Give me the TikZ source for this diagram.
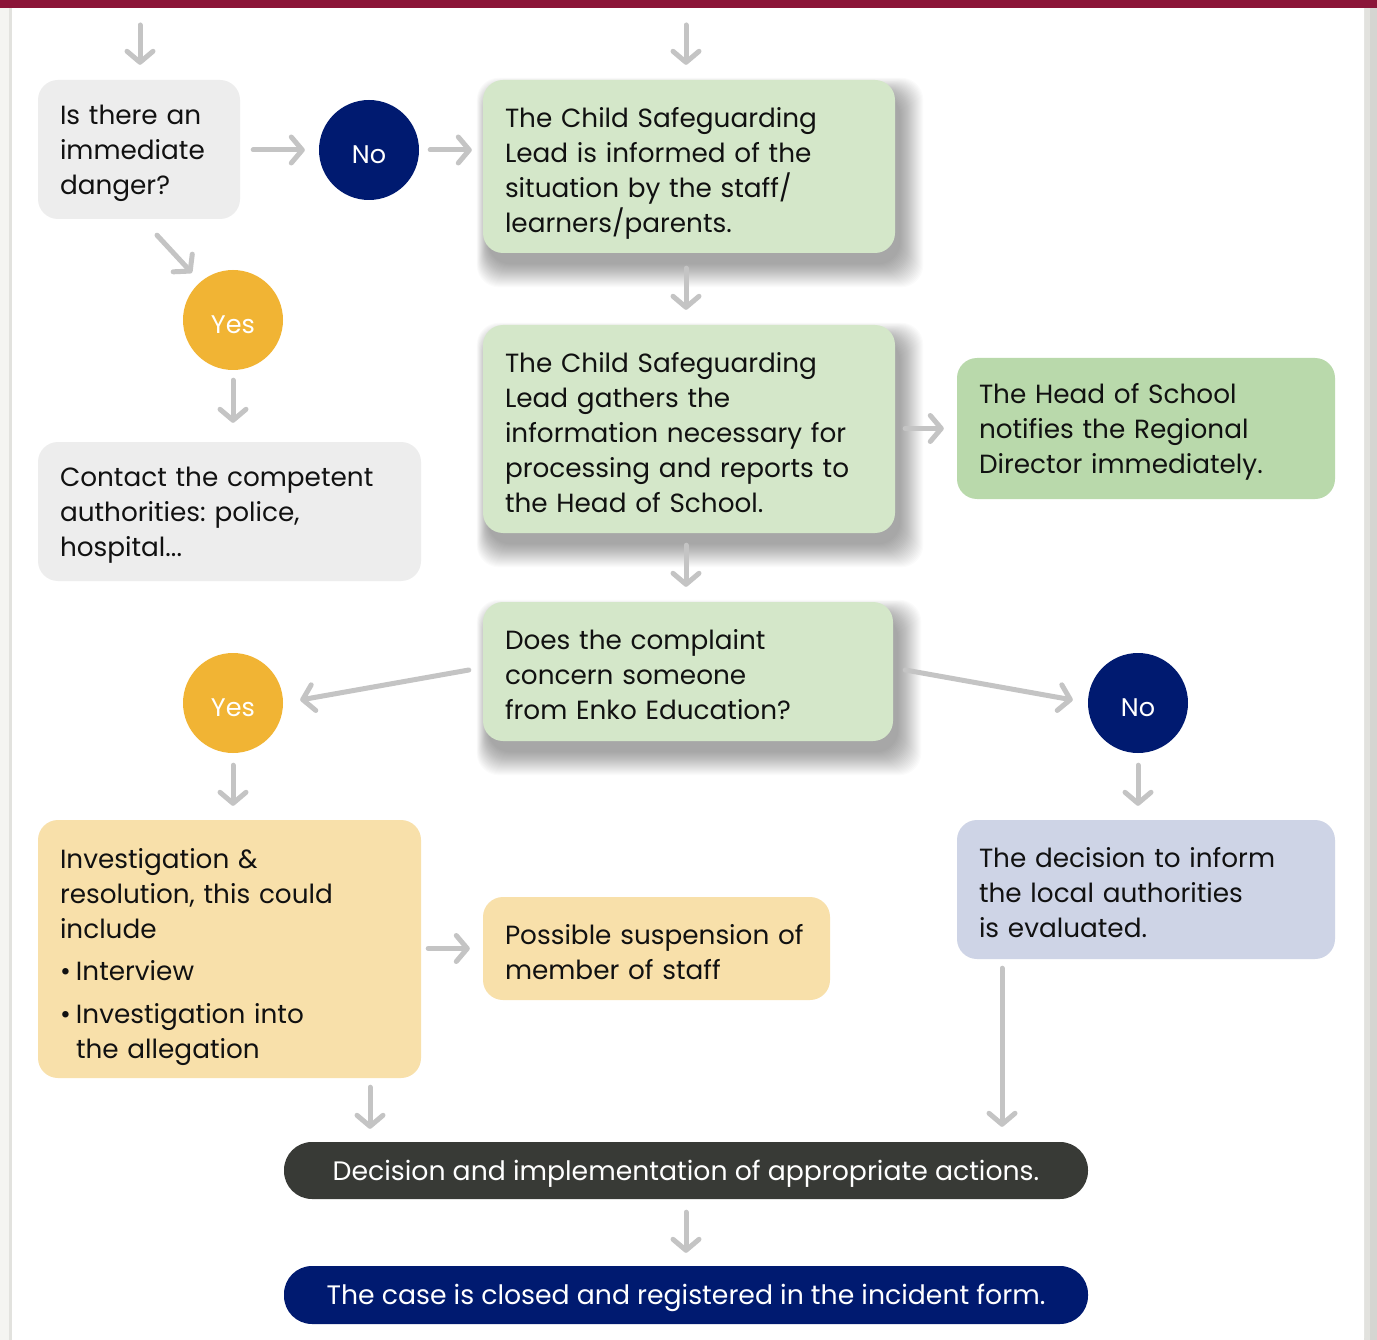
\documentclass[tikz,border=0pt]{standalone}
\usepackage{fontspec}
\setmainfont{Poppins}
\frenchspacing
\usetikzlibrary{arrows.meta,calc}
\pgfdeclarelayer{frame}
\pgfdeclarelayer{shadow}
\pgfsetlayers{frame,shadow,main}
\definecolor{navy}{HTML}{001A70}
\definecolor{sun}{HTML}{F1B434}
\definecolor{greyfill}{HTML}{EDEDED}
\definecolor{greenfill}{HTML}{D4E7C9}
\definecolor{greendark}{HTML}{B9D9AB}
\definecolor{yelfill}{HTML}{F8E0AA}
\definecolor{bluefill}{HTML}{CED4E6}
\definecolor{darkpill}{HTML}{383A36}
\definecolor{arrowgray}{HTML}{C4C4C4}
\definecolor{maroon}{HTML}{8B1538}
\definecolor{frameL}{HTML}{F4F4F1}
\definecolor{frameG}{HTML}{E2E2DE}
\definecolor{frameD}{HTML}{D5D5D1}
\definecolor{ink}{HTML}{111111}
\newcommand\softshadow[1]{%
  \begin{pgfonlayer}{shadow}
  \foreach \k in {0,...,23}{%
    \fill[black, opacity=0.016, rounded corners=22pt]
      ($(#1.north west)+(-6+0.5*\k,-2+0.7*\k)$) rectangle ($(#1.south east)+(28-\k,34-\k)$);}
  \end{pgfonlayer}}
\begin{document}
\begin{tikzpicture}[x=1pt,y=-1pt,
  lift/.style={execute at begin node={\rule{0pt}{27pt}}},
  txt/.style={font=\fontsize{26.3}{35}\selectfont, lift},
  box/.style={txt, rounded corners=20pt, align=left, inner xsep=22pt, inner ysep=0pt, text=ink},
  circ/.style={font=\fontsize{25.5}{30}\selectfont, lift, circle, minimum size=100pt, inner sep=0pt, text=white},
  pill/.style={font=\fontsize{26.7}{35}\selectfont, lift, rounded corners=28pt, minimum width=804pt, inner sep=0pt, text=white},
  arr/.style={draw=arrowgray, line width=5pt, line cap=round, -{Straight Barb[length=11pt,width=26pt,round]}}
]
\useasboundingbox (0,0) rectangle (1377,1340);
% page frame
\begin{pgfonlayer}{frame}
\fill[frameG] (0,0) rectangle (1377,1340);
\fill[frameL] (0,0) rectangle (9,1340);
\fill[frameD] (1370,0) rectangle (1377,1340);
\fill[white, rounded corners=14pt] (12,-30) rectangle (1364,1352);
\fill[maroon] (0,0) rectangle (1377,8);
\end{pgfonlayer}

% nodes
\node[box, fill=greyfill, text width=158pt, minimum height=139pt] (q) at (139,149.5)
  {Is there an\\immediate\\danger?};
\node[circ, fill=navy] (no1) at (369,150) {No};
\node[box, fill=greenfill, text width=368pt, minimum height=173pt] (b1) at (689,166.5)
  {\rule{0pt}{33pt}The Child Safeguarding\\Lead is informed of the\\situation by the staff/\\learners/parents.};
\node[circ, fill=sun] (yes1) at (233,320) {Yes};
\node[box, fill=greyfill, text width=339pt, minimum height=139pt] (contact) at (229.5,511.5)
  {Contact the competent\\authorities: police,\\hospital...};
\node[box, fill=greenfill, text width=368pt, minimum height=208pt] (b2) at (689,429)
  {The Child Safeguarding\\Lead gathers the\\information necessary for\\processing and reports to\\the Head of School.};
\node[box, fill=greendark, text width=334pt, minimum height=141pt] (hos) at (1146,428.5)
  {The Head of School\\notifies the Regional\\Director immediately.};
\node[box, fill=greenfill, text width=366pt, minimum height=139pt] (b3) at (688,671.5)
  {Does the complaint\\concern someone\\from Enko Education?};
\node[circ, fill=sun] (yes2) at (233,703) {Yes};
\node[circ, fill=navy] (no2) at (1138,703) {No};
\node[box, fill=yelfill, text width=339pt, minimum height=258pt] (inv) at (229.5,949)
  {\rule{0pt}{37pt}Investigation \&\\resolution, this could\\include\\[7pt]\makebox[16pt][l]{•}Interview\\[8pt]\makebox[16pt][l]{•}Investigation into\\\hspace*{16pt}the allegation};
\node[box, fill=yelfill, text width=303pt, minimum height=103pt] (susp) at (656.5,948.5)
  {Possible suspension of\\member of staff};
\node[box, fill=bluefill, text width=334pt, minimum height=139pt] (eval) at (1146,889.5)
  {The decision to inform\\the local authorities\\is evaluated.};
\node[pill, fill=darkpill, minimum height=57pt] (act) at (686,1170.5)
  {Decision and implementation of appropriate actions.};
\node[pill, fill=navy, minimum height=58pt] (close) at (686,1295)
  {The case is closed and registered in the incident form.};

\softshadow{b1}
\softshadow{b2}
\softshadow{b3}

% free ends
\coordinate (t1) at (140,25);
\coordinate (t2) at (686,25);

% connectors
\draw[arr, shorten >=15pt] (t1) -- (q.north -| t1);
\draw[arr, shorten >=15pt] (t2) -- (b1.north -| t2);
\draw[arr, shorten <=13pt, shorten >=14pt] (q.east |- no1) -- (no1.west);
\draw[arr, shorten <=11pt, shorten >=11pt] (no1.east) -- (no1.east -| b1.west);
\draw[arr] ($(q.south)+(18,16)$) -- ($(yes1.north west)+(-5.6,-11.6)$);
\draw[arr, shorten <=10pt, shorten >=19pt] (yes1.south) -- (contact.north -| yes1.south);
\draw[arr, shorten <=15pt, shorten >=15pt] (b1.south -| t2) -- (b2.north -| t2);
\draw[arr, shorten <=10pt, shorten >=13pt] (b2.east |- hos.west) -- (hos.west);
\draw[arr, shorten <=12pt, shorten >=15pt] (b2.south -| t2) -- (b3.north -| t2);
\draw[arr] ($(b3.west)+(-14,-1.5)$) -- ($(yes2.east)+(17,-3)$);
\draw[arr] ($(b3.east)+(12,-1.5)$) -- ($(no2.west)+(-15,-3)$);
\draw[arr, shorten <=12pt, shorten >=14pt] (yes2.south) -- (inv.north -| yes2.south);
\draw[arr, shorten <=12pt, shorten >=14pt] (no2.south) -- (eval.north -| no2.south);
\draw[arr, shorten <=7pt, shorten >=13pt] (inv.east |- susp.west) -- (susp.west);
\draw[arr, shorten <=9pt, shorten >=13pt] ($(inv.south)+(140.5,0)$) -- ($(act.north)+(-316,0)$);
\draw[arr, shorten <=9pt, shorten >=15pt] ($(eval.south)+(-144,0)$) -- ($(act.north)+(316,0)$);
\draw[arr, shorten <=13pt, shorten >=13pt] (act.south) -- (close.north);
\end{tikzpicture}
\end{document}
